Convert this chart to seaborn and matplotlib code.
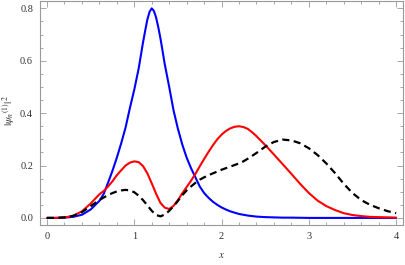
import numpy as np
import pandas as pd
import matplotlib
matplotlib.use("Agg")
import matplotlib.pyplot as plt
from matplotlib.ticker import MultipleLocator
import seaborn as sns

# sample points
x = [0.0, 0.1, 0.2, 0.3, 0.4, 0.5, 0.6, 0.65, 0.7, 0.75, 0.8, 0.85, 0.9, 0.95,
     1.0, 1.05, 1.1, 1.15, 1.2, 1.25, 1.3, 1.35, 1.4, 1.45, 1.5, 1.55, 1.6, 1.65,
     1.7, 1.75, 1.8, 1.85, 1.9, 1.95, 2.0, 2.05, 2.1, 2.15, 2.2, 2.25, 2.3, 2.35,
     2.4, 2.5, 2.6, 2.7, 2.8, 2.9, 3.0, 3.1, 3.2, 3.3, 3.4, 3.5, 3.6, 3.7, 3.8,
     3.9, 4.0]

red = [0.0, 0.0, 0.002, 0.008, 0.025, 0.055, 0.09, 0.103, 0.12, 0.14, 0.163,
       0.182, 0.2, 0.211, 0.216, 0.213, 0.198, 0.17, 0.132, 0.092, 0.057,
       0.039, 0.034, 0.046, 0.068, 0.094, 0.118, 0.142, 0.168, 0.197, 0.225,
       0.252, 0.277, 0.3, 0.318, 0.332, 0.342, 0.348, 0.35, 0.347, 0.34,
       0.327, 0.312, 0.278, 0.242, 0.205, 0.168, 0.13, 0.095, 0.066, 0.045,
       0.03, 0.018, 0.011, 0.007, 0.004, 0.003, 0.002, 0.001]

black = [0.0, 0.0, 0.002, 0.008, 0.022, 0.045, 0.068, 0.078, 0.087, 0.095,
         0.101, 0.105, 0.107, 0.105, 0.098, 0.085, 0.068, 0.048, 0.027, 0.011,
         0.006, 0.013, 0.027, 0.045, 0.065, 0.087, 0.105, 0.12, 0.134, 0.146,
         0.155, 0.163, 0.17, 0.177, 0.184, 0.19, 0.196, 0.202, 0.208, 0.216,
         0.226, 0.237, 0.248, 0.272, 0.29, 0.299, 0.296, 0.285, 0.266, 0.24,
         0.208, 0.171, 0.13, 0.095, 0.068, 0.05, 0.037, 0.026, 0.018]

# the blue peak is narrow, so it was read at a finer step
x_blue = [0.0, 0.1, 0.2, 0.3, 0.4, 0.5, 0.6, 0.65, 0.7, 0.75, 0.8, 0.85, 0.9,
          0.95, 1.0, 1.05, 1.1, 1.125, 1.15, 1.175, 1.2, 1.225, 1.25, 1.275,
          1.3, 1.35, 1.4, 1.45, 1.5, 1.55, 1.6, 1.65, 1.7, 1.75, 1.8, 1.85,
          1.9, 1.95, 2.0, 2.05, 2.1, 2.15, 2.2, 2.25, 2.3, 2.35, 2.4, 2.5, 2.6,
          2.7, 2.8, 3.0, 3.5, 4.0]
blue = [0.0, 0.0, 0.001, 0.004, 0.012, 0.032, 0.065, 0.092, 0.135, 0.18, 0.23,
        0.285, 0.345, 0.42, 0.49, 0.57, 0.67, 0.715, 0.758, 0.787, 0.80,
        0.79, 0.765, 0.728, 0.685, 0.585, 0.50, 0.41, 0.34, 0.28, 0.23, 0.19,
        0.155, 0.12, 0.095, 0.077, 0.062, 0.05, 0.04, 0.032, 0.025, 0.02,
        0.015, 0.012, 0.009, 0.007, 0.005, 0.003, 0.002, 0.001, 0.001, 0.0,
        0.0, 0.0]

sns.set_style("ticks")
plt.rcParams['font.family'] = ['Liberation Serif', 'DejaVu Serif']
plt.rcParams['mathtext.fontset'] = 'stix'

fig = plt.figure(figsize=(4.05, 2.65), dpi=100)
ax = fig.add_axes([0.0988, 0.151, 0.8962, 0.847])

df = pd.DataFrame({'x': x, 'red': red, 'black': black})
df_blue = pd.DataFrame({'x': x_blue, 'blue': blue})
sns.lineplot(data=df_blue, x='x', y='blue', ax=ax, color=(0, 0, 1), lw=1.5)
sns.lineplot(data=df, x='x', y='red', ax=ax, color=(1, 0, 0), lw=1.5)
sns.lineplot(data=df, x='x', y='black', ax=ax, color='black', lw=1.6,
             linestyle=(0, (3.2, 2.0)))

ax.set_xlim(-0.08, 4.078)
ax.set_ylim(-0.027, 0.83)

gray = '#999999'
for s in ax.spines.values():
    s.set_color(gray)
    s.set_linewidth(0.8)

ax.xaxis.set_major_locator(MultipleLocator(1))
ax.xaxis.set_minor_locator(MultipleLocator(0.2))
ax.yaxis.set_major_locator(MultipleLocator(0.2))
ax.yaxis.set_minor_locator(MultipleLocator(0.05))
ax.yaxis.set_major_formatter(matplotlib.ticker.FormatStrFormatter('%.1f'))
ax.tick_params(which='both', direction='in', top=True, right=True,
               color=gray, labelcolor='#333333', labelsize=7.5, width=0.6)
ax.tick_params(which='major', length=4, pad=5)
ax.tick_params(which='minor', length=2.2)

ax.set_xlabel(r'$x$', fontsize=8, color='#333333', labelpad=7)
ax.set_ylabel(r'$|\psi_n{}^{(1)}|^2$', fontsize=8, color='#333333')
ax.yaxis.set_label_coords(-0.064, 0.51)

fig.savefig('out.png', dpi=100)
